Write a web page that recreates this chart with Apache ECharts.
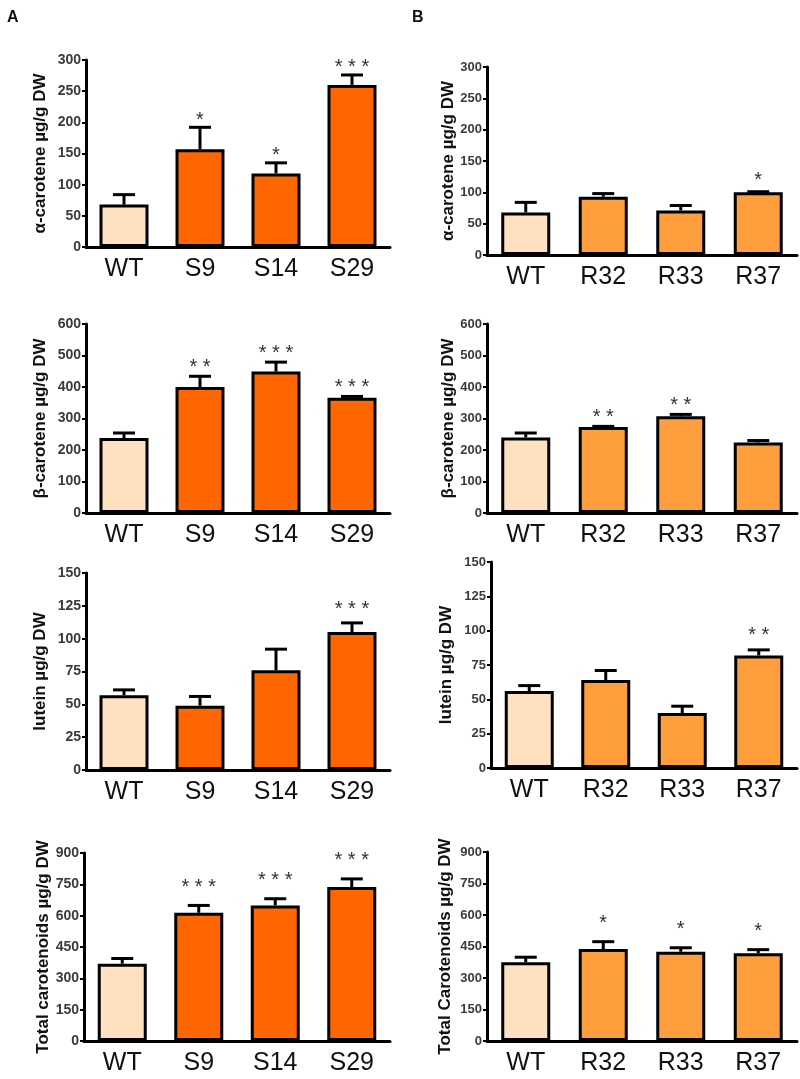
<!DOCTYPE html>
<html><head><meta charset="utf-8">
<script src="https://cdn.jsdelivr.net/npm/echarts@6/dist/echarts.min.js"></script>
<style>html,body{margin:0;padding:0;background:#fff}#c{width:800px;height:1079px}</style>
</head><body><div id="c"></div>
<script>
// ---- data ----
const catsS = ['WT', 'S9', 'S14', 'S29'];
const catsR = ['WT', 'R32', 'R33', 'R37'];

const alphaS = [68, 157, 118, 260];
const alphaS_sem = [16, 35, 17, 16];
const alphaS_sig = ['', '*', '*', '***'];
const alphaR = [68, 93, 71, 100];
const alphaR_sem = [16, 5, 8, 1];
const alphaR_sig = ['', '', '', '*'];

const betaS = [238, 400, 449, 366];
const betaS_sem = [16, 34, 30, 4];
const betaS_sig = ['', '**', '***', '***'];
const betaR = [240, 273, 307, 224];
const betaR_sem = [14, 2, 6, 6];
const betaR_sig = ['', '**', '**', ''];

const luteinS = [57, 49, 76, 105];
const luteinS_sem = [4, 7, 16, 7];
const luteinS_sig = ['', '', '', '***'];
const luteinR = [56, 64, 40, 82];
const luteinR_sem = [4, 7, 5, 4];
const luteinR_sig = ['', '', '', '**'];

const totalS = [370, 614, 649, 737];
const totalS_sem = [25, 35, 32, 39];
const totalS_sig = ['', '***', '***', '***'];
const totalR = [375, 438, 425, 418];
const totalR_sem = [24, 35, 19, 17];
const totalR_sig = ['', '*', '*', '*'];

const yMax = [300, 600, 150, 900];
const yStep = [50, 100, 25, 150];
const yNamesS = ['α-carotene µg/g DW', 'β-carotene µg/g DW', 'lutein µg/g DW', 'Total carotenoids µg/g DW'];
const yNamesR = ['α-carotene µg/g DW', 'β-carotene µg/g DW', 'lutein µg/g DW', 'Total Carotenoids µg/g DW'];
const panelLetters = ['A', 'B'];

// ---- layout / style ----
const WT_COLOR = '#FFE0C0';
const S_COLOR = '#FF6600';
const R_COLOR = '#FF9E3D';
const FONT = 'Liberation Sans, Arial, sans-serif';

const panels = [
  {cats: catsS, v: alphaS, e: alphaS_sem, sig: alphaS_sig, row: 0, side: 0, g: {left: 86, top: 60, width: 304, height: 187}, gap: 37, starOff: 11},
  {cats: catsR, v: alphaR, e: alphaR_sem, sig: alphaR_sig, row: 0, side: 1, g: {left: 487, top: 67, width: 310, height: 188}, gap: 28, starOff: 15},
  {cats: catsS, v: betaS, e: betaS_sem, sig: betaS_sig, row: 1, side: 0, g: {left: 86, top: 324, width: 304, height: 189}, gap: 37, starOff: 13},
  {cats: catsR, v: betaR, e: betaR_sem, sig: betaR_sig, row: 1, side: 1, g: {left: 487, top: 324, width: 310, height: 189}, gap: 29, starOff: 13},
  {cats: catsS, v: luteinS, e: luteinS_sem, sig: luteinS_sig, row: 2, side: 0, g: {left: 86, top: 573, width: 304, height: 197}, gap: 37, starOff: 17},
  {cats: catsR, v: luteinR, e: luteinR_sem, sig: luteinR_sig, row: 2, side: 1, g: {left: 491, top: 562, width: 306, height: 206}, gap: 36, starOff: 18},
  {cats: catsS, v: totalS, e: totalS_sem, sig: totalS_sig, row: 3, side: 0, g: {left: 84, top: 853, width: 306, height: 188}, gap: 32, starOff: 22},
  {cats: catsR, v: totalR, e: totalR_sem, sig: totalR_sig, row: 3, side: 1, g: {left: 487, top: 852, width: 310, height: 189}, gap: 33, starOff: 22}
];

const grid = [], xAxis = [], yAxis = [], series = [];
panels.forEach((p, i) => {
  grid.push(Object.assign({containLabel: false}, p.g));
  xAxis.push({
    type: 'category', gridIndex: i, data: p.cats,
    axisLine: {show: true, lineStyle: {color: '#000', width: 3}},
    axisTick: {show: false},
    axisLabel: {fontSize: 25, color: '#111', fontFamily: FONT, margin: 10}
  });
  yAxis.push({
    type: 'value', gridIndex: i, min: 0, max: yMax[p.row], interval: yStep[p.row],
    name: p.side === 0 ? yNamesS[p.row] : yNamesR[p.row],
    nameLocation: 'middle', nameRotate: 90, nameGap: p.gap,
    nameTextStyle: {fontSize: 17, fontWeight: 'bold', color: '#111', fontFamily: FONT},
    axisLine: {show: true, lineStyle: {color: '#000', width: 3}},
    axisTick: {show: true, length: 4, lineStyle: {color: '#000', width: 2}},
    axisLabel: {fontSize: p.side === 0 ? 14 : 13, fontWeight: 'bold', color: '#3a3a3a', fontFamily: FONT, margin: 5},
    splitLine: {show: false}
  });
  const orange = p.side === 0 ? S_COLOR : R_COLOR;
  series.push({
    type: 'bar', xAxisIndex: i, yAxisIndex: i, data: p.v, barWidth: 49,
    itemStyle: {
      color: (d) => d.dataIndex === 0 ? WT_COLOR : orange,
      borderColor: '#000', borderWidth: 3
    },
    silent: true, animation: false
  });
  series.push({
    type: 'custom', xAxisIndex: i, yAxisIndex: i, z: 5, animation: false, silent: true,
    data: p.v.map((val, k) => [k, val, p.e[k]]),
    renderItem: (params, api) => {
      const x = api.value(0), val = api.value(1), err = api.value(2);
      const p0 = api.coord([x, val]);
      const p1 = api.coord([x, val + err]);
      const children = [
        {type: 'line', shape: {x1: p0[0], y1: p0[1], x2: p1[0], y2: p1[1]}, style: {stroke: '#000', lineWidth: 3}},
        {type: 'line', shape: {x1: p1[0] - 11, y1: p1[1], x2: p1[0] + 11, y2: p1[1]}, style: {stroke: '#000', lineWidth: 3}}
      ];
      const s = p.sig[params.dataIndex];
      if (s) {
        children.push({type: 'text', style: {
          text: s.split('').join(' '), x: p1[0], y: p1[1] - p.starOff + 4,
          align: 'center', verticalAlign: 'middle',
          fontSize: 20, fontFamily: FONT, fill: '#333'
        }});
      }
      return {type: 'group', children};
    }
  });
});

const chart = echarts.init(document.getElementById('c'), null, {renderer: 'canvas'});
chart.setOption({
  animation: false,
  backgroundColor: '#fff',
  graphic: [
    {type: 'text', left: 7, top: 10, style: {text: panelLetters[0], fontSize: 16, fontWeight: 'bold', fill: '#111', fontFamily: FONT}},
    {type: 'text', left: 412, top: 10, style: {text: panelLetters[1], fontSize: 16, fontWeight: 'bold', fill: '#111', fontFamily: FONT}}
  ],
  grid, xAxis, yAxis, series
});
</script>
</body></html>
